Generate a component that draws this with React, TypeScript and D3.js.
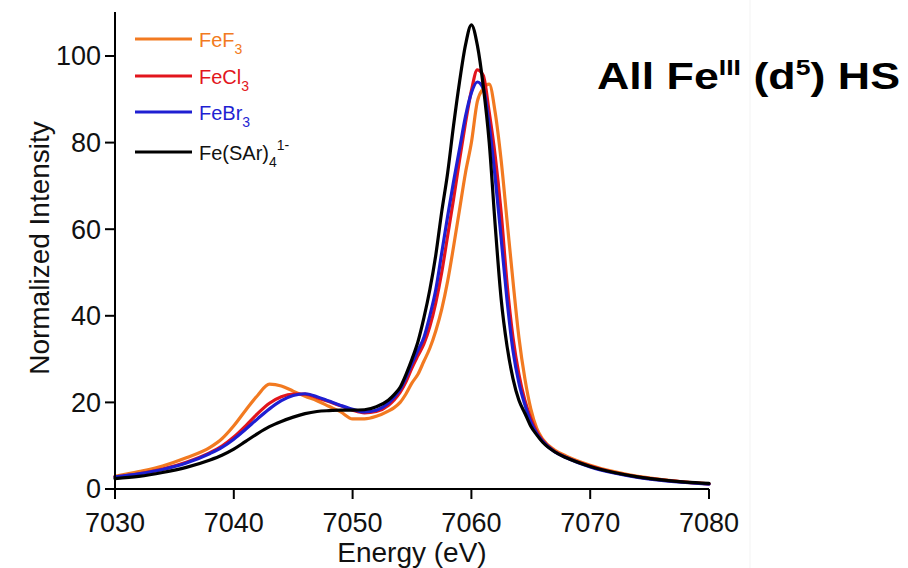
import React from 'react';
import * as d3 from 'd3';

const energy = [7030, 7032, 7034, 7036, 7038, 7039, 7040, 7041, 7042, 7043, 7044, 7045, 7046, 7047, 7048, 7049, 7050, 7051, 7052, 7053,
  7053.5, 7054, 7054.5, 7055, 7055.5, 7056, 7056.5, 7057, 7057.5, 7058, 7058.5, 7059, 7059.5, 7060, 7060.5, 7061, 7061.5, 7062, 7062.5, 7063, 7063.5, 7064, 7064.5, 7065, 7065.5, 7066,
  7067, 7068, 7070, 7072, 7074, 7076, 7078, 7080];

const feF3 = [2.9, 4.0, 5.3, 7.2, 9.6, 11.6, 14.6, 18.2, 21.6, 24.2, 23.8, 22.6, 21.4, 20.4, 19.1, 17.8, 16.2, 16.2, 16.8, 18.0,
  18.8, 20.0, 22.0, 24.5, 26.5, 29.5, 32.5, 36.5, 41.5, 48.0, 56.0, 64.5, 73.0, 80.0, 89.5, 92.5, 93.5, 87.0, 76.0, 62.0, 48.0, 35.0, 25.5, 18.5, 14.0, 11.5,
  9.0, 7.6, 5.5, 4.0, 2.9, 2.2, 1.6, 1.2];

const feCl3 = [2.8, 3.5, 4.6, 6.2, 8.4, 9.9, 12.0, 14.6, 17.4, 19.8, 21.3, 21.9, 21.9, 21.1, 20.2, 19.2, 18.2, 17.6, 17.9, 19.3,
  20.6, 22.3, 24.8, 28.0, 30.8, 33.5, 37.5, 43.0, 50.0, 58.5, 67.0, 76.0, 84.5, 92.0, 96.8, 95.5, 87.0, 77.0, 64.0, 47.5, 35.0, 26.5, 20.5, 16.3, 13.2, 11.2,
  8.7, 7.3, 5.3, 3.8, 2.8, 2.1, 1.6, 1.2];

const feBr3 = [2.8, 3.5, 4.5, 6.0, 8.2, 9.6, 11.5, 13.8, 16.2, 18.5, 20.4, 21.6, 22.0, 21.3, 20.3, 19.3, 18.4, 17.8, 18.2, 19.8,
  21.2, 23.0, 25.8, 29.0, 32.0, 35.0, 40.0, 46.0, 54.5, 63.0, 71.0, 78.5, 86.0, 91.5, 94.0, 92.5, 84.0, 72.0, 58.0, 43.6, 32.0, 24.5, 19.5, 15.5, 12.8, 11.0,
  8.6, 7.2, 5.1, 3.7, 2.7, 2.0, 1.5, 1.1];

const feSAr4 = [2.4, 2.9, 3.8, 5.0, 6.7, 7.8, 9.2, 11.0, 12.8, 14.4, 15.6, 16.6, 17.4, 17.9, 18.1, 18.2, 18.2, 18.3, 19.0, 20.5,
  21.8, 23.5, 26.5, 30.0, 34.0, 39.5, 46.0, 54.0, 64.0, 73.0, 84.0, 94.0, 102.5, 107.2, 102.5, 93.0, 80.0, 61.0, 44.0, 33.0, 25.5, 20.5, 17.5, 14.5, 12.5, 10.8,
  8.6, 7.2, 5.2, 3.8, 2.8, 2.1, 1.6, 1.3];

const xTicks = [7030, 7040, 7050, 7060, 7070, 7080];
const yTicks = [0, 20, 40, 60, 80, 100];

const legendBase = ['FeF', 'FeCl', 'FeBr', 'Fe(SAr)'];
const legendSub = ['3', '3', '3', '4'];
const legendSup = ['', '', '', '1-'];

const seriesValues = [feF3, feCl3, feBr3, feSAr4];
const seriesColors = ['#f27a21', '#e2151c', '#1f1fd2', '#000000'];

const FONT = '"Liberation Sans", Arial, Helvetica, sans-serif';

export default function App() {
  const x = d3.scaleLinear().domain([7030, 7080]).range([115, 709]);
  const y = d3.scaleLinear().domain([0, 100]).range([489, 56]);
  const lineGen = d3
    .line<number>()
    .x((_, i) => x(energy[i]))
    .y((d) => y(d))
    .curve(d3.curveMonotoneX);

  const legendY = [39, 76, 112, 152];

  return (
    <svg
      width={908}
      height={568}
      style={{ position: 'absolute', left: 0, top: 0, background: '#fff' }}
      fontFamily={FONT}
    >
      <rect x={0} y={0} width={908} height={568} fill="#fff" />
      <line x1={750} x2={750} y1={0} y2={568} stroke="#f3f3f3" strokeWidth={1} />

      {/* series */}
      {seriesValues.map((vals, i) => (
        <path
          key={i}
          d={lineGen(vals) || ''}
          fill="none"
          stroke={seriesColors[i]}
          strokeWidth={3.2}
          strokeLinejoin="round"
          strokeLinecap="round"
        />
      ))}

      {/* axes */}
      <line x1={x(7030)} x2={x(7030)} y1={12} y2={y(0)} stroke="#000" strokeWidth={2} />
      <line x1={x(7030)} x2={x(7080)} y1={y(0)} y2={y(0)} stroke="#000" strokeWidth={2} />
      {yTicks.map((t) => (
        <g key={'y' + t}>
          <line x1={x(7030) - 10} x2={x(7030)} y1={y(t)} y2={y(t)} stroke="#000" strokeWidth={2} />
          <text x={x(7030) - 14} y={y(t)} dy="0.35em" textAnchor="end" fontSize={27} fill="#111">
            {t}
          </text>
        </g>
      ))}
      {xTicks.map((t) => (
        <g key={'x' + t}>
          <line x1={x(t)} x2={x(t)} y1={y(0)} y2={y(0) + 10} stroke="#000" strokeWidth={2} />
          <text x={x(t)} y={532} textAnchor="middle" fontSize={27} fill="#111">
            {t}
          </text>
        </g>
      ))}
      <text x={412} y={562} textAnchor="middle" fontSize={28} fill="#111">
        Energy (eV)
      </text>
      <text
        transform={`translate(49, 248) rotate(-90)`}
        textAnchor="middle"
        fontSize={28}
        fill="#111"
      >
        Normalized Intensity
      </text>

      {/* legend */}
      {legendBase.map((b, i) => (
        <g key={'lg' + i}>
          <line x1={135} x2={192} y1={legendY[i]} y2={legendY[i]} stroke={seriesColors[i]} strokeWidth={3.2} />
          <text x={199} y={legendY[i] + 7.5} fontSize={20} fill={i === 3 ? '#111' : seriesColors[i]}>
            {b}
            <tspan fontSize={14} dy={7}>{legendSub[i]}</tspan>
            {legendSup[i] ? (
              <tspan fontSize={14} dy={-17}>{legendSup[i]}</tspan>
            ) : null}
          </text>
        </g>
      ))}

      {/* title */}
      <g transform="translate(597, 89) scale(1.21, 1)">
        <text x={0} y={0} fontSize={37} fontWeight="bold" fill="#000">
          All Fe
          <tspan fontSize={22} dy={-14}>III</tspan>
          <tspan dy={14}> (d</tspan>
          <tspan fontSize={22} dy={-14}>5</tspan>
          <tspan dy={14}>) HS</tspan>
        </text>
      </g>
    </svg>
  );
}
